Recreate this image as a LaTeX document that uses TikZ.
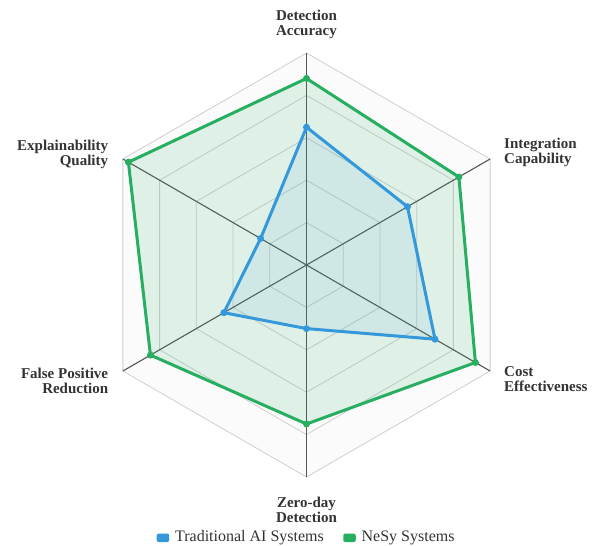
\documentclass[tikz,border=0pt]{standalone}
\usepackage{fontspec}
\setmainfont{Liberation Serif}
\usetikzlibrary{positioning}
\definecolor{tradblue}{HTML}{3498DB}
\definecolor{nesygreen}{HTML}{27AE60}
\definecolor{gridgray}{HTML}{CFCFCF}
\definecolor{axisgray}{HTML}{555555}
\definecolor{labelgray}{HTML}{333333}
\tikzset{
  gridline/.style={draw=gridgray, line width=0.8pt},
  axisline/.style={draw=axisgray, line width=1.1pt},
  axislabel/.style={text=labelgray, inner sep=0pt,
    font=\bfseries\fontsize{15}{15}\selectfont},
  nesyarea/.style={draw=nesygreen, line width=3pt, line join=round,
    fill=nesygreen, fill opacity=0.13},
  tradarea/.style={draw=tradblue, line width=3pt, line join=round,
    fill=tradblue, fill opacity=0.09},
  legendbox/.style={minimum width=12.5pt, minimum height=8.5pt,
    inner sep=0pt, rounded corners=2pt},
  legendtext/.style={text=labelgray, inner sep=0pt,
    font=\fontsize{16}{18}\selectfont}
}

\begin{document}
\begin{tikzpicture}[x=1pt,y=1pt]
\useasboundingbox (-306.5,-281) rectangle (290.5,265);
% grid
\fill[black!1.5] (90:212) -- (30:212) -- (-30:212) -- (-90:212) -- (210:212) -- (150:212) -- cycle;
\foreach \r in {42.4,84.8,127.2,169.6,212}
  \draw[gridline] (90:\r) -- (30:\r) -- (-30:\r) -- (-90:\r) -- (210:\r) -- (150:\r) -- cycle;
\coordinate (c) at (0,0);
\foreach \a/\n in {90/acc,30/int,-30/cost,-90/zero,210/fpr,150/expl}
  \coordinate (\n) at (\a:212);
\foreach \n in {acc,int,cost,zero,fpr,expl}
  \draw[axisline] (c) -- (\n);

% data
\foreach \a/\v/\i in {90/.88/1,30/.83/2,-30/.92/3,-90/.75/4,210/.85/5,150/.97/6}
  \coordinate (nesy\i) at ({\a}:{212*\v});
\foreach \a/\v/\i in {90/.65/1,30/.55/2,-30/.70/3,-90/.30/4,210/.45/5,150/.25/6}
  \coordinate (trad\i) at ({\a}:{212*\v});
\draw[nesyarea] (nesy1) -- (nesy2) -- (nesy3) -- (nesy4) -- (nesy5) -- (nesy6) -- cycle;
\draw[tradarea] (trad1) -- (trad2) -- (trad3) -- (trad4) -- (trad5) -- (trad6) -- cycle;
\foreach \i in {1,...,6} {
  \fill[nesygreen] (nesy\i) circle (3.5);
  \fill[tradblue] (trad\i) circle (3.5);
}

% labels
\node[axislabel, align=center] (accl) at (0,241) {Detection\\Accuracy};
\node[axislabel, align=left, anchor=west] (intl) at (197.5,113) {Integration\\Capability};
\node[axislabel, align=left, anchor=west] (costl) at (197.5,-114.4) {Cost\\Effectiveness};
\node[axislabel, align=center] (zerol) at (0,-244.4) {Zero-day\\Detection};
\node[axislabel, align=right, anchor=east] (fprl) at (-198.2,-116) {False Positive\\Reduction};
\node[axislabel, align=right, anchor=east] (expll) at (-198.2,111) {Explainability\\Quality};

% legend
\node[legendbox, fill=tradblue] (tradkey) at (-143.5,-272.8) {};
\node[legendtext, right=5.5pt of tradkey] (tradtext) {Traditional AI Systems};
\node[legendbox, fill=nesygreen] (nesykey) at (43,-272.8) {};
\node[legendtext, right=5.5pt of nesykey] (nesytext) {NeSy Systems};
\end{tikzpicture}
\end{document}
